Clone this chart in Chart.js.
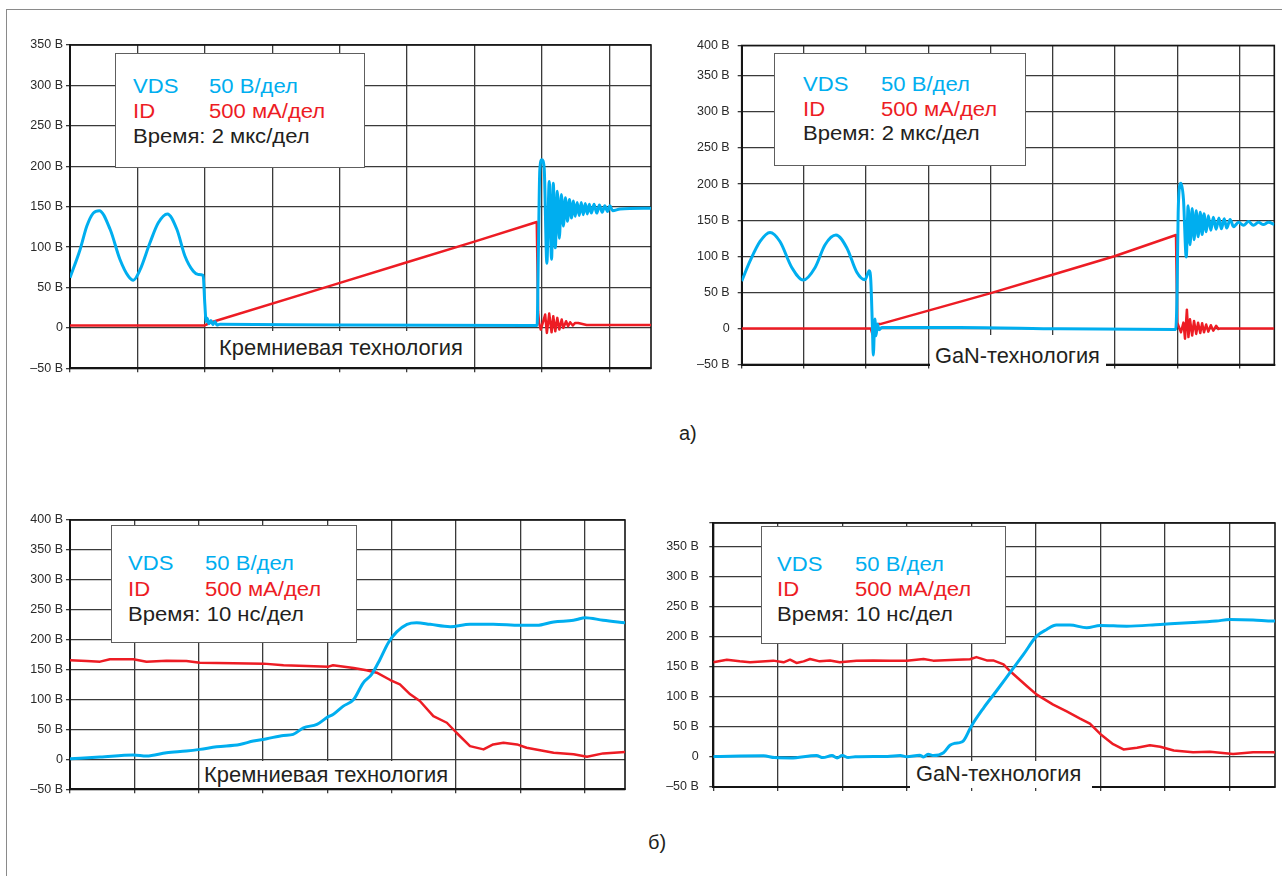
<!DOCTYPE html>
<html><head><meta charset="utf-8">
<script src="https://cdn.jsdelivr.net/npm/chart.js@4.4.0/dist/chart.umd.min.js"></script>
<style>
html,body{margin:0;padding:0;}
body{width:1282px;height:876px;background:#fff;position:relative;overflow:hidden;font-family:"Liberation Sans",Arial,sans-serif;color:#231f20;}
.frame{position:absolute;left:6px;top:9px;width:1290px;height:880px;border-left:1px solid #8a8a8a;border-top:1px solid #8a8a8a;}
canvas{position:absolute;}
.box{position:absolute;background:#fff;border:1.5px solid #5e5e5e;box-sizing:border-box;}
.wbox{position:absolute;background:#fff;}
.t{position:absolute;white-space:nowrap;font-size:20px;line-height:20px;transform-origin:0 0;}
.lb{position:absolute;white-space:nowrap;font-size:22px;line-height:22px;transform-origin:0 0;}
.b{color:#00aeef}.r{color:#ed1c24}.k{color:#231f20}
</style></head>
<body>
<div class="frame"></div>
<canvas id="cA" width="660" height="350" style="left:0px;top:30px"></canvas>
<canvas id="cB" width="612" height="350" style="left:670px;top:30px"></canvas>
<canvas id="cC" width="640" height="300" style="left:0px;top:505px"></canvas>
<canvas id="cD" width="637" height="300" style="left:645px;top:505px"></canvas>

<!-- legend boxes -->
<div class="box" style="left:115px;top:52.5px;width:250px;height:115px"></div>
<div class="box" style="left:774px;top:53px;width:251.5px;height:113px"></div>
<div class="box" style="left:111px;top:525px;width:246px;height:118px"></div>
<div class="box" style="left:761px;top:525.5px;width:244.5px;height:118px"></div>

<div class="t lg b" style="left:132.7px;top:76.4px">VDS</div>
<div class="t lg b" style="left:209px;top:76.4px">50 В/дел</div>
<div class="t lg r" style="left:132.7px;top:101.4px">ID</div>
<div class="t lg r" style="left:209px;top:101.4px">500 мА/дел</div>
<div class="t lg k" id="ref" style="left:132.7px;top:126.4px">Время: 2 мкс/дел</div>

<div class="t lg b" style="left:803.3px;top:74.1px">VDS</div>
<div class="t lg b" style="left:880.7px;top:74.1px">50 В/дел</div>
<div class="t lg r" style="left:803.3px;top:99.1px">ID</div>
<div class="t lg r" style="left:880.7px;top:99.1px">500 мА/дел</div>
<div class="t lg k" style="left:803.3px;top:123.1px">Время: 2 мкс/дел</div>

<div class="t lg b" style="left:128.3px;top:553.1px">VDS</div>
<div class="t lg b" style="left:205px;top:553.1px">50 В/дел</div>
<div class="t lg r" style="left:128.3px;top:578.8px">ID</div>
<div class="t lg r" style="left:205px;top:578.8px">500 мА/дел</div>
<div class="t lg k" style="left:128.3px;top:603.8px">Время: 10 нс/дел</div>

<div class="t lg b" style="left:777.3px;top:553.8px">VDS</div>
<div class="t lg b" style="left:855px;top:553.8px">50 В/дел</div>
<div class="t lg r" style="left:777.3px;top:578.8px">ID</div>
<div class="t lg r" style="left:855px;top:578.8px">500 мА/дел</div>
<div class="t lg k" style="left:777.3px;top:603.8px">Время: 10 нс/дел</div>

<!-- technology labels -->
<div class="wbox" style="left:210px;top:330.5px;width:258px;height:36.5px"></div>
<div class="lb fit" data-w="244" style="left:219px;top:337.4px">Кремниевая технология</div>
<div class="wbox" style="left:930px;top:334.5px;width:176px;height:35px"></div>
<div class="lb fit" data-w="165.3" style="left:934.7px;top:344.7px">GaN-технология</div>
<div class="wbox" style="left:201px;top:761px;width:251px;height:27px"></div>
<div class="lb fit" data-w="244.3" style="left:204px;top:764.1px">Кремниевая технология</div>
<div class="wbox" style="left:910px;top:760.5px;width:182px;height:27.5px"></div>
<div class="lb fit" data-w="165.7" style="left:916px;top:763.1px">GaN-технология</div>

<div class="t" style="left:679px;top:422.5px">а)</div>
<div class="t" style="left:648px;top:832px">б)</div>

<script>
// ---------- DATA ----------
// top charts: time in µs (2 мкс/дел); bottom charts: time in ns (10 нс/дел)
// VDS in volts; ID in mA (500 мА/дел ↔ 50 В/дел, i.e. 10 mA per volt-unit)
const MA_PER_UNIT = 10;

const xTicksTop = [0, 2, 4, 6, 8, 10, 12, 14, 16];
const xTicksBottom = [0, 10, 20, 30, 40, 50, 60, 70, 80];

const yTicksA = [-50, 0, 50, 100, 150, 200, 250, 300, 350];
const yLabelsA = ['–50 В', '0', '50 В', '100 В', '150 В', '200 В', '250 В', '300 В', '350 В'];
const yTicksB = [-50, 0, 50, 100, 150, 200, 250, 300, 350, 392];
const yLabelsB = ['–50 В', '0', '50 В', '100 В', '150 В', '200 В', '250 В', '300 В', '350 В', '400 В'];
const yTicksC = [-50, 0, 50, 100, 150, 200, 250, 300, 350, 400];
const yLabelsC = ['–50 В', '0', '50 В', '100 В', '150 В', '200 В', '250 В', '300 В', '350 В', '400 В'];
const yTicksD = [-50, 0, 50, 100, 150, 200, 250, 300, 350, 390];
const yLabelsD = ['–50 В', '0', '50 В', '100 В', '150 В', '200 В', '250 В', '300 В', '350 В', ''];

// Chart A — silicon, 2 µs/div
const vdsA = [[0,62],[0.3,97],[0.5,126],[0.69,142],[0.87,145],[1.19,122],[1.48,85],[1.73,64],[1.88,59],[2.08,72],[2.37,105],[2.62,130],[2.89,141],[3.17,122],[3.41,89],[3.66,70],[3.81,66],[3.95,65],[4.0,30],[4.04,8],[4.07,12],[4.12,5],[4.18,9],[4.24,4],[4.3,8],[4.36,3.5],[4.45,4.5],[8.0,3.6],[13.86,3],[13.9,100],[13.94,195],[14.0,208],[14.07,198],[14.15,80],[14.22,181],[14.29,85],[14.34,179],[14.4,99],[14.46,169],[14.52,111],[14.58,165],[14.64,126],[14.7,161],[14.76,132],[14.82,159],[14.88,136],[14.94,157],[14.99,138],[15.05,155],[15.11,139],[15.17,155],[15.23,140],[15.29,154],[15.35,141],[15.41,153],[15.47,142],[15.55,153],[15.63,142],[15.71,152],[15.79,143],[15.87,151],[15.95,144],[16.02,151],[16.1,145],[16.32,147],[17.24,148]];
const idA = [[0,28],[3.98,28],[4.05,40],[4.12,60],[7.72,520],[10.0,812],[12.0,1067],[13.85,1310],[13.89,200],[13.92,60],[13.97,-21],[14.1,165],[14.15,-62],[14.22,177],[14.29,-54],[14.34,144],[14.4,-42],[14.46,124],[14.52,-21],[14.59,103],[14.64,0],[14.72,82],[14.78,21],[14.84,70],[14.92,29],[14.99,62],[15.08,60],[15.33,36],[17.24,37]];

// Chart B — GaN, 2 µs/div
const vdsB = [[0,65.6],[0.27,93.5],[0.59,120.5],[0.91,133],[1.23,120.5],[1.61,84.5],[1.98,67],[2.36,84.5],[2.68,116],[3.03,129.4],[3.38,111.5],[3.7,77.8],[3.96,67.4],[4.1,80],[4.15,66],[4.2,4],[4.23,-37],[4.28,13],[4.32,-10],[4.36,6],[4.42,-2],[4.5,1.3],[7.0,1.3],[10.24,-0.5],[13.95,-1.5],[13.99,40],[14.03,160],[14.08,198],[14.12,201],[14.2,179],[14.29,99],[14.35,170],[14.41,116],[14.48,166],[14.54,123],[14.61,163],[14.67,127],[14.74,161],[14.8,130],[14.86,159],[14.93,134],[15.0,156],[15.08,136],[15.16,154],[15.25,137.5],[15.34,153],[15.42,138],[15.51,152],[15.59,139],[15.7,151],[15.81,141],[15.97,147],[16.13,143],[16.29,148],[16.45,143],[16.61,147],[16.77,144],[16.93,147],[17.12,144]];
const idB = [[0,0],[4.15,0],[4.2,-76],[4.27,104],[4.32,-30],[4.39,60],[4.45,60],[7.98,485],[9.91,733],[11.98,1000],[13.96,1294],[14.0,80],[14.12,-54],[14.2,80],[14.25,-143],[14.31,260],[14.36,-120],[14.41,126],[14.48,-98],[14.54,104],[14.61,-76],[14.67,80],[14.74,-63],[14.8,72],[14.86,-54],[14.93,54],[15.0,-45],[15.08,45],[15.16,-31],[15.25,36],[15.32,-9],[15.38,0],[17.12,0]];

// Chart C — silicon, 10 ns/div
const vdsC = [[0,1],[4.67,3.8],[9.85,7.2],[11.9,5.5],[15.0,11],[18.1,13.9],[20.2,16.7],[22.8,21],[26.4,25],[28.5,30.6],[30.6,34.5],[33.2,40],[34.7,41.8],[36.3,52.8],[38.4,58.5],[40.1,71],[40.9,75],[42.5,89],[44.1,100],[45.6,128],[46.9,142],[48.2,167],[49.5,195],[50.8,213],[52.4,225.7],[53.9,228.4],[56.0,225.7],[59.1,221.7],[62.2,225.7],[65.8,225.7],[70.0,224],[72.6,224],[75.2,229.6],[78.3,232.4],[78.8,233.6],[80.1,236.8],[82.9,232.4],[86.3,228.4]];
const idC = [[0,1655],[2.6,1644],[4.67,1633],[6.2,1672],[9.85,1672],[11.9,1633],[15.0,1650],[18.1,1644],[20.2,1616],[25.4,1605],[30.1,1600],[33.2,1572],[36.8,1560],[40.2,1549],[40.9,1572],[44.1,1527],[46.1,1488],[47.7,1448],[49.8,1326],[51.3,1254],[52.9,1087],[54.4,975],[56.5,724],[58.6,612],[60.1,445],[62.2,222],[64.3,167],[65.8,250],[67.4,278],[69.5,250],[71.0,194],[75.2,110],[78.3,84],[80.4,43],[82.9,100],[86.3,122]];

// Chart D — GaN, 10 ns/div
const vdsD = [[0,1],[7.8,2],[9.5,-1],[12,-1.5],[16,2.5],[17,-1],[18.4,2.5],[19.2,-1.5],[20,2.5],[20.9,-1],[22,0.5],[27,1],[29,2.5],[30,0.5],[32,3],[32.6,0],[33.3,4.5],[34.1,2.3],[35.7,7],[36.7,19.5],[37.5,23],[38.2,24],[38.8,27],[39.8,47],[40.1,53],[41.9,81.6],[43.9,110],[46.0,140.5],[48.1,171],[50.1,201],[51.7,212.5],[53.2,220],[55.3,220],[57.9,215.3],[60.0,219.3],[64.1,218],[69.3,221],[74.4,224],[78.0,226.7],[80.1,229],[83.7,228.4],[86.8,226.7],[87.1,226.7]];
const idD = [[0,1578],[2.1,1620],[4.1,1594],[5.7,1578],[9.3,1606],[10.9,1578],[11.9,1622],[12.9,1567],[14.0,1594],[15.0,1633],[16.5,1594],[18.1,1610],[19.6,1578],[22.2,1606],[24.8,1610],[27.4,1606],[30.0,1606],[32.6,1633],[34.1,1606],[37.7,1620],[39.8,1630],[40.8,1665],[42.4,1610],[43.4,1610],[45.0,1544],[46.0,1433],[48.6,1183],[50.1,1044],[52.7,874],[54.8,759],[56.8,644],[58.4,557],[60.0,385],[62.0,213],[63.6,126],[65.7,155],[67.7,195],[69.3,172],[71.4,109],[74.4,80],[77.0,86],[80.6,52],[83.7,80],[86.8,80],[87.1,75]];

// ---------- STYLE ----------
const BLUE = '#00aeef', RED = '#ed1c24', GRID = '#3a3a3a', AXIS = '#151515';
Chart.defaults.font.family = '"Liberation Sans", Arial, sans-serif';

const frameBorder = {
  id: 'frameBorder',
  beforeDatasetsDraw(chart) {
    const {ctx, chartArea: a} = chart;
    ctx.save();
    ctx.strokeStyle = AXIS; ctx.lineWidth = 1.6;
    ctx.strokeRect(a.left, a.top, a.right - a.left, a.bottom - a.top);
    ctx.restore();
  }
};

function build(id, o) {
  new Chart(document.getElementById(id), {
    type: 'line',
    data: { datasets: [
      { data: o.vds.map(p => ({x: p[0], y: p[1]})), borderColor: BLUE, borderWidth: 3, pointRadius: 0, cubicInterpolationMode: 'monotone', fill: false },
      { data: o.id.map(p => ({x: p[0], y: p[1] / MA_PER_UNIT})), borderColor: RED, borderWidth: 2.5, pointRadius: 0, tension: 0, borderJoinStyle: 'round', fill: false }
    ]},
    options: {
      responsive: false, animation: false, devicePixelRatio: 1, events: [],
      layout: { padding: o.pad },
      plugins: { legend: { display: false }, tooltip: { enabled: false } },
      scales: {
        x: {
          type: 'linear', min: 0, max: o.xMax,
          afterBuildTicks: s => { s.ticks = o.xTicks.map(v => ({value: v})); },
          afterFit: s => { s.height = 8; },
          ticks: { callback: () => '', autoSkip: false, padding: 0 },
          grid: { color: GRID, lineWidth: 1.3, tickLength: 4, drawTicks: true },
          border: { display: true, color: AXIS, width: 2 }
        },
        y: {
          type: 'linear', min: o.yMin, max: o.yMax,
          afterBuildTicks: s => { s.ticks = o.yTicks.map(v => ({value: v})); },
          afterFit: s => { s.width = o.yWidth; },
          ticks: { callback: (v, i) => o.yLabels[i], autoSkip: false, padding: o.tickPad, color: '#2a2a2a', font: { size: 12.5 } },
          grid: { color: GRID, lineWidth: 1.3, tickLength: 4, drawTicks: true },
          border: { display: true, color: AXIS, width: 2 }
        }
      }
    },
    plugins: [frameBorder]
  });
}

build('cA', { vds: vdsA, id: idA, xMax: 17.24, xTicks: xTicksTop, yMin: -50, yMax: 350, yTicks: yTicksA, yLabels: yLabelsA, yWidth: 70, tickPad: 3, pad: {left: 0, top: 15, right: 9, bottom: 3.7} });
build('cB', { vds: vdsB, id: idB, xMax: 17.12, xTicks: xTicksTop, yMin: -50, yMax: 392, yTicks: yTicksB, yLabels: yLabelsB, yWidth: 71.7, tickPad: 8, pad: {left: 0, top: 12.7, right: 7.7, bottom: 1.3} });
build('cC', { vds: vdsC, id: idC, xMax: 86.3, xTicks: xTicksBottom, yMin: -50, yMax: 400, yTicks: yTicksC, yLabels: yLabelsC, yWidth: 70, tickPad: 3, pad: {left: 0, top: 15, right: 15, bottom: 7.7} });
build('cD', { vds: vdsD, id: idD, xMax: 87.1, xTicks: xTicksBottom, yMin: -50, yMax: 390, yTicks: yTicksD, yLabels: yLabelsD, yWidth: 68.3, tickPad: 10.5, pad: {left: 0, top: 17.3, right: 7, bottom: 8} });

// fit text widths to the reference's slightly wide lettering
const ref = document.getElementById('ref');
const f = 176.5 / ref.offsetWidth;
document.querySelectorAll('.lg').forEach(e => { e.style.transform = 'scaleX(' + f + ')'; });
document.querySelectorAll('.fit').forEach(e => { e.style.transform = 'scaleX(' + (parseFloat(e.dataset.w) / e.offsetWidth) + ')'; });
</script>
</body></html>
